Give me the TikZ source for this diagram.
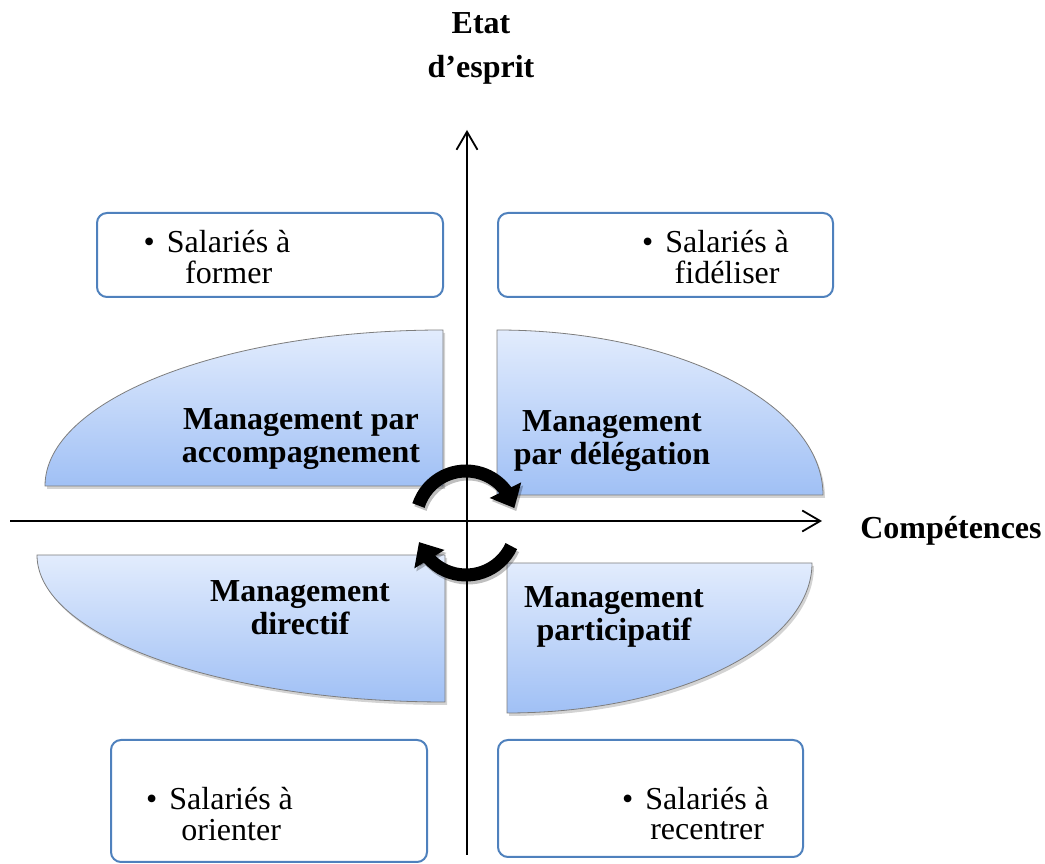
\documentclass[tikz,border=0pt]{standalone}
\usepackage{fontspec}
\setmainfont{Liberation Serif}
\usetikzlibrary{arrows.meta,bending,shadows}
\definecolor{blobtop}{RGB}{226,236,253}
\definecolor{blobbot}{RGB}{160,192,245}
\definecolor{blobline}{RGB}{125,125,125}
\definecolor{boxblue}{RGB}{79,129,189}
\begin{document}
\begin{tikzpicture}[x=1pt,y=1pt,
  blob/.style={draw=blobline, line width=0.8pt, top color=blobtop, bottom color=blobbot,
    drop shadow={shadow xshift=2pt,shadow yshift=-3pt,opacity=0.35}},
  infobox/.style={draw=boxblue, line width=2pt, rounded corners=10pt, inner sep=0pt},
  axisline/.style={line width=1.8pt, -{Straight Barb[length=18pt,width=21pt,line width=1.8pt]}},
  cyc/.style={line width=13pt, -{Triangle[length=20pt,width=34pt]}},
  cycshadow/.style={cyc, black, opacity=0.25},
  boldtxt/.style={font=\fontsize{32}{33}\selectfont\bfseries, inner sep=0pt, anchor=base},
  boxtxt/.style={font=\fontsize{32}{30}\selectfont, inner sep=0pt, anchor=base west}
]
\useasboundingbox (0,0) rectangle (1045,864);

% axes
\coordinate (ybot) at (467,9);
\coordinate (ytop) at (467,734);
\coordinate (xl) at (10,343);
\coordinate (xr) at (822,343);

% quadrant shapes
\path[blob] (443,378) -- (45,378) arc[start angle=180,end angle=90,x radius=398pt,y radius=156pt] -- cycle;
\path[blob] (497,369) -- (497,534) arc[start angle=90,end angle=0,x radius=326pt,y radius=165pt] -- cycle;
\path[blob] (37,309) -- (445,309) -- (445,162) arc[start angle=270,end angle=180,x radius=408pt,y radius=147pt] -- cycle;
\path[blob] (507,151) -- (507,301) -- (812,301) arc[start angle=0,end angle=-90,x radius=305pt,y radius=150pt] -- cycle;

\draw[axisline] (ybot) -- (ytop);
\draw[axisline] (xl) -- (xr);

% circular arrows
\coordinate (rc) at (466,343);
\coordinate (rcb) at (466,339);
\draw[cycshadow] ([shift={(162:50pt)}]rc) ++(2pt,-3pt) arc[start angle=162,end angle=15,radius=50pt];
\draw[cycshadow] ([shift={(-25:50pt)}]rcb) ++(2pt,-3pt) arc[start angle=-25,end angle=-160,radius=50pt];
\draw[cyc] ([shift={(162:50pt)}]rc) arc[start angle=162,end angle=15,radius=50pt];
\draw[cyc] ([shift={(-25:50pt)}]rcb) arc[start angle=-25,end angle=-160,radius=50pt];

% shape labels
\node[boldtxt] (acc) at (301,434) {\begin{tabular}[t]{@{}c@{}}Management par\\accompagnement\end{tabular}};
\node[boldtxt] (del) at (612,432) {\begin{tabular}[t]{@{}c@{}}Management\\par délégation\end{tabular}};
\node[boldtxt] (dir) at (300,262) {\begin{tabular}[t]{@{}c@{}}Management\\directif\end{tabular}};
\node[boldtxt] (par) at (614,256) {\begin{tabular}[t]{@{}c@{}}Management\\participatif\end{tabular}};

% axis labels
\node[boldtxt, font=\fontsize{32}{40}\selectfont\bfseries] (etat) at (481,830) {\begin{tabular}[t]{@{}c@{}}Etat\\[4pt]d’esprit\end{tabular}};
\node[boldtxt] (comp) at (951,325) {Compétences};

% info boxes
\node[infobox, minimum width=346pt, minimum height=84pt] (tlbox) at (270,609) {};
\node[infobox, minimum width=335pt, minimum height=84pt] (trbox) at (665.5,609) {};
\node[infobox, minimum width=316pt, minimum height=122pt] (blbox) at (269,63) {};
\node[infobox, minimum width=305pt, minimum height=117pt] (brbox) at (650.5,65.5) {};

\node[boxtxt] (tltxt) at (143.5,611) {\begin{tabular}[t]{@{}l@{\hspace{12pt}}c@{}}\textbullet & Salariés à\\[-1pt] & former\end{tabular}};
\node[boxtxt] (trtxt) at (642,611) {\begin{tabular}[t]{@{}l@{\hspace{12pt}}c@{}}\textbullet & Salariés à\\[-1pt] & fidéliser\end{tabular}};
\node[boxtxt] (bltxt) at (146,54) {\begin{tabular}[t]{@{}l@{\hspace{12pt}}c@{}}\textbullet & Salariés à\\ & orienter\end{tabular}};
\node[boxtxt] (brtxt) at (622,54) {\begin{tabular}[t]{@{}l@{\hspace{12pt}}c@{}}\textbullet & Salariés à\\ & recentrer\end{tabular}};
\end{tikzpicture}
\end{document}
